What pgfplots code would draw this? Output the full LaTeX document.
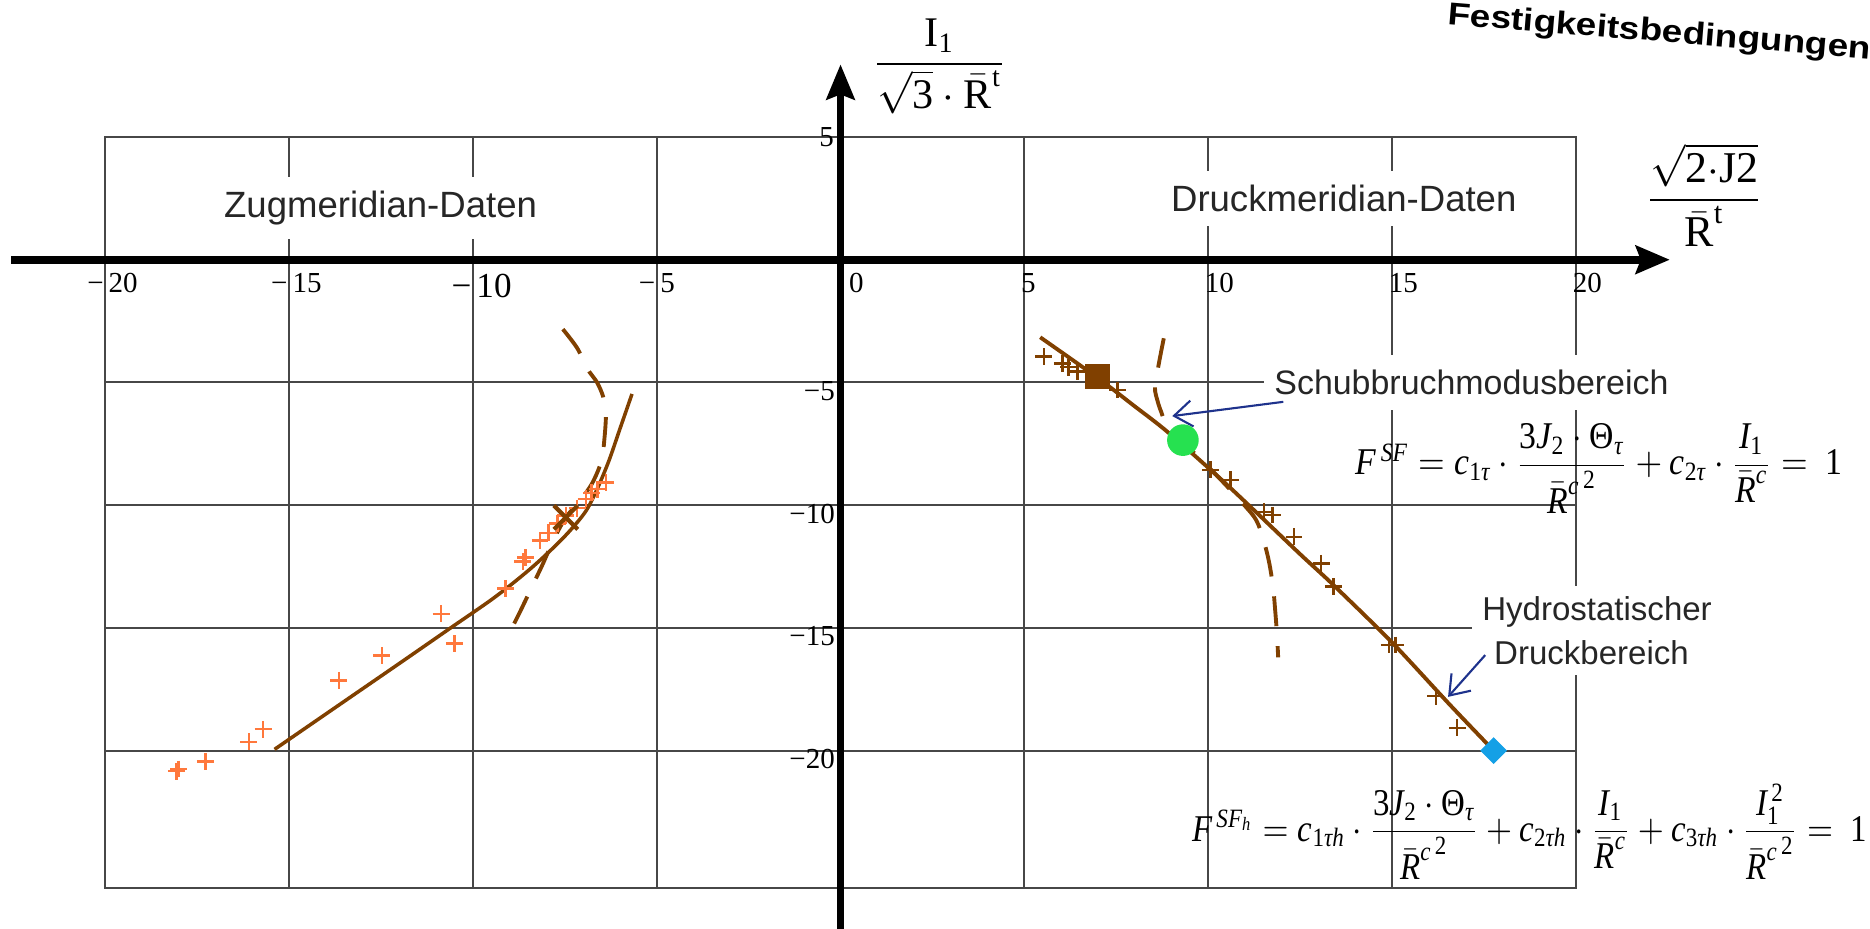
\documentclass[border=0pt]{standalone}
\usepackage{fontspec}
\usepackage{amsmath}
\setmainfont{Liberation Serif}
\setsansfont{Liberation Sans}
\usepackage{pgfplots}
\pgfplotsset{compat=1.18}
\usetikzlibrary{arrows.meta}

\definecolor{brownc}{RGB}{128,64,0}
\definecolor{orangec}{RGB}{255,120,60}
\definecolor{navyc}{RGB}{30,50,140}
\definecolor{greenc}{RGB}{38,225,80}
\definecolor{bluec}{RGB}{20,160,230}

\newcommand{\ti}[1]{\textit{#1}}
\newcommand{\tl}{\fontsize{8.25}{10}\selectfont}
% R-bar with the exponent c^2, set as in the source formulas
\newcommand{\Rcsq}{\bar{\ti{R}}^{\ti{c}\,\raisebox{0.35ex}{\fontsize{7.5}{8}\selectfont 2}}}

% tension meridian: fitted curve
\pgfplotstableread{
x y
-15.39 -19.95
-13.50 -18.00
-11.90 -16.35
-10.60 -15.00
-9.40 -13.75
-8.40 -12.55
-7.55 -11.35
-6.95 -10.30
-6.62 -9.35
-6.30 -8.20
-6.00 -6.90
-5.67 -5.47
}\zugfit
% tension meridian: shear fracture branch
\pgfplotstableread{
x y
-7.55 -2.83
-7.16 -3.60
-6.89 -4.43
-6.62 -5.00
-6.45 -5.60
-6.38 -6.30
-6.42 -7.30
-6.50 -8.20
-6.75 -9.10
-7.10 -9.85
-7.47 -10.50
-7.80 -11.40
-8.09 -12.38
-8.35 -13.20
-8.70 -14.30
-9.00 -15.20
}\zugshear
% tension meridian: test data
\pgfplotstableread{
x y
-18.06 -20.84
-18.00 -20.75
-17.27 -20.45
-16.09 -19.64
-15.70 -19.13
-13.64 -17.14
-12.47 -16.13
-10.86 -14.43
-10.50 -15.64
-9.11 -13.39
-8.64 -12.30
-8.56 -12.14
-8.17 -11.44
-7.94 -11.13
-7.70 -10.75
-7.47 -10.43
-7.16 -10.12
-6.92 -9.74
-6.77 -9.50
-6.61 -9.35
-6.38 -9.08
}\zugdata
% compression meridian: fitted curve
\pgfplotstableread{
x y
5.43 -3.16
6.98 -4.80
7.98 -5.95
8.88 -7.00
10.24 -8.80
11.24 -10.20
12.50 -12.00
13.40 -13.25
15.00 -15.60
16.58 -18.15
17.76 -20.00
}\druckfit
% compression meridian: shear fracture branch
\pgfplotstableread{
x y
8.79 -3.20
8.66 -4.20
8.55 -5.20
8.62 -5.75
8.72 -6.20
8.93 -6.94
9.60 -7.85
10.30 -8.90
10.95 -9.95
11.30 -10.60
11.50 -11.40
11.65 -12.30
11.76 -13.30
11.82 -14.30
11.87 -15.30
11.90 -16.20
}\druckshear
% compression meridian: test data
\pgfplotstableread{
x y
5.53 -3.95
6.03 -4.22
6.20 -4.38
6.44 -4.56
7.53 -5.31
10.06 -8.56
10.60 -8.97
11.52 -10.27
11.74 -10.40
12.33 -11.29
13.07 -12.37
13.40 -13.32
14.92 -15.70
15.09 -15.70
16.19 -17.78
16.77 -19.07
}\druckdata

\begin{document}
\begin{tikzpicture}
\begin{axis}[
  scale only axis, width=147.1mm, height=75.1mm,
  xmin=-20, xmax=20, ymin=-25.6, ymax=5,
  xtick={-20,-15,...,20}, ytick={-20,-15,...,5},
  xticklabels={}, yticklabels={},
  major tick length=0pt,
  grid=major,
  grid style={line width=0.6pt, draw=black!72},
  axis line style={line width=0.6pt, draw=black!72},
  clip=false,
]
% text boxes that interrupt the grid
\node[anchor=base west, fill=white, inner xsep=1mm, inner ysep=1.4mm, xshift=-1mm,
  font=\sffamily\fontsize{10.4}{12}\selectfont, text=black!85] at (axis cs:-16.78,1.74) {Zugmeridian-Daten};
\node[anchor=base west, fill=white, inner xsep=1mm, inner ysep=1.4mm, xshift=-1mm,
  font=\sffamily\fontsize{10.4}{12}\selectfont, text=black!85] at (axis cs:8.97,1.96) {Druckmeridian-Daten};
\node[anchor=base west, fill=white, inner xsep=1mm, inner ysep=1.5mm, xshift=-1mm,
  font=\sffamily\fontsize{9.65}{12}\selectfont, text=black!85] at (axis cs:11.78,-5.51) {Schubbruchmodusbereich};
\node[anchor=base, fill=white, inner xsep=1mm, inner ysep=1mm,
  font=\sffamily\fontsize{9.4}{12}\selectfont, text=black!85] at (axis cs:20.57,-14.68) {Hydrostatischer};
\node[anchor=base, fill=white, inner xsep=1mm, inner ysep=1mm,
  font=\sffamily\fontsize{9.4}{12}\selectfont, text=black!85] at (axis cs:20.42,-16.48) {Druckbereich};

% tension meridian
\addplot[brownc, line width=1pt, smooth] table {\zugfit};
\addplot[brownc, line width=1.1pt, smooth, dash pattern=on 8.5pt off 5.7pt] table {\zugshear};
\addplot[only marks, mark=+, mark size=2.4pt, orangec, mark options={line width=0.7pt}] table {\zugdata};
\addplot[only marks, mark=x, mark size=4.8pt, brownc, mark options={line width=1.2pt}] coordinates {(-7.47,-10.5)};

% compression meridian
\addplot[brownc, line width=1.1pt, smooth] table {\druckfit};
\addplot[brownc, line width=1.1pt, smooth, dash pattern=on 8.5pt off 5.7pt] table {\druckshear};
\addplot[only marks, mark=+, mark size=2.4pt, brownc, mark options={line width=0.7pt}] table {\druckdata};
\addplot[only marks, mark=square*, mark size=3.4pt, brownc] coordinates {(6.98,-4.76)};
\addplot[only marks, mark=*, mark size=4.3pt, greenc] coordinates {(9.31,-7.35)};
\addplot[only marks, mark=square*, mark size=2.5pt, bluec, mark options={rotate=45}] coordinates {(17.76,-20)};

% coordinate axes
\draw[line width=2.2pt, -{Stealth[length=3.4mm, width=2.8mm, inset=0.5mm]}] (axis cs:-22.55,0) -- (axis cs:22.55,0);
\draw[line width=2.1pt, -{Stealth[length=3.5mm, width=2.8mm, inset=0.5mm]}] (axis cs:0,-27.3) -- (axis cs:0,7.96);

% tick labels
\node[anchor=north west, inner sep=0, font=\tl, xshift=0.3mm] at (axis cs:-20,-0.54) {\llap{−\hspace{0.5mm}}20};
\node[anchor=north west, inner sep=0, font=\tl, xshift=0.3mm] at (axis cs:-15,-0.54) {\llap{−\hspace{0.5mm}}15};
\node[anchor=north west, inner sep=0, font=\fontsize{10}{12}\selectfont, xshift=0.3mm] at (axis cs:-10,-0.54) {\llap{−\hspace{0.5mm}}10};
\node[anchor=north west, inner sep=0, font=\tl, xshift=0.3mm] at (axis cs:-5,-0.54) {\llap{−\hspace{0.5mm}}5};
\node[anchor=north west, inner sep=0, font=\tl, xshift=0.8mm] at (axis cs:0,-0.54) {0};
\node[anchor=north west, inner sep=0, font=\tl, xshift=-0.4mm] at (axis cs:5,-0.54) {5};
\node[anchor=north west, inner sep=0, font=\tl, xshift=-0.4mm] at (axis cs:10,-0.54) {10};
\node[anchor=north west, inner sep=0, font=\tl, xshift=-0.4mm] at (axis cs:15,-0.54) {15};
\node[anchor=north west, inner sep=0, font=\tl, xshift=-0.4mm] at (axis cs:20,-0.54) {20};
\node[anchor=east, inner sep=0, font=\tl, xshift=-0.6mm] at (axis cs:0,5) {5};
\node[anchor=north east, inner sep=0, font=\tl, xshift=-0.5mm, yshift=0.2mm] at (axis cs:0,-5) {−5};
\node[anchor=north east, inner sep=0, font=\tl, xshift=-0.5mm, yshift=0.2mm] at (axis cs:0,-10) {−10};
\node[anchor=north east, inner sep=0, font=\tl, xshift=-0.5mm, yshift=0.2mm] at (axis cs:0,-15) {−15};
\node[anchor=north east, inner sep=0, font=\tl, xshift=-0.5mm, yshift=0.2mm] at (axis cs:0,-20) {−20};

% axis titles
\node[inner sep=0, font=\fontsize{12}{14}\selectfont] at (axis cs:2.69,7.89)
  {$\dfrac{\text{I}_{\text{1}}}{\sqrt{\text{3}}\cdot\bar{\text{R}}^{\text{t}}}$};
\node[inner sep=0, font=\fontsize{12.5}{14}\selectfont] at (axis cs:23.49,2.64)
  {$\dfrac{\sqrt{\text{2}{\cdot}\text{J2}}}{\bar{\text{R}}^{\text{t}}}$};

% failure criteria
\node[anchor=base west, inner sep=0, font=\fontsize{10.75}{13}\selectfont] at (axis cs:13.99,-8.77)
  {\resizebox{48.7mm}{\height}{$\ti{F}^{\,\ti{SF}} = \ti{c}_{\text{1}\ti{τ}}\cdot\dfrac{\text{3}\ti{J}_{\text{2}}\cdot\text{Θ}_{\ti{τ}}}{\Rcsq} + \ti{c}_{\text{2}\ti{τ}}\cdot\dfrac{\ti{I}_{\text{1}}}{\bar{\ti{R}}^{\ti{c}}} = \ \text{1}$}};
\node[anchor=base west, inner sep=0, font=\fontsize{10.75}{13}\selectfont] at (axis cs:9.54,-23.69)
  {\resizebox{67.5mm}{\height}{$\ti{F}^{\,\ti{SF}_{\ti{h}}} = \ti{c}_{\text{1}\ti{τh}}\cdot\dfrac{\text{3}\ti{J}_{\text{2}}\cdot\text{Θ}_{\ti{τ}}}{\Rcsq} + \ti{c}_{\text{2}\ti{τh}}\cdot\dfrac{\ti{I}_{\text{1}}}{\bar{\ti{R}}^{\ti{c}}} + \ti{c}_{\text{3}\ti{τh}}\cdot\dfrac{\ti{I}_{\text{1}}^{\,\text{2}}}{\Rcsq} = \ \text{1}$}};

% pointers to the marked regions
\draw[navyc, line width=0.6pt, -{Straight Barb[length=1.8mm, width=2.6mm]}] (axis cs:12.04,-5.79) -- (axis cs:9.02,-6.37);
\draw[navyc, line width=0.6pt, -{Straight Barb[length=1.8mm, width=2.6mm]}] (axis cs:17.53,-16.11) -- (axis cs:16.52,-17.81);

\node[anchor=base west, inner sep=0, rotate=-4.7, font=\sffamily\bfseries\fontsize{9}{10}\selectfont] at (axis cs:16.48,9.60)
  {\resizebox{42.4mm}{\height}{Festigkeitsbedingungen}};

\coordinate (bbSW) at (axis cs:-22.855,-27.23);
\coordinate (bbNE) at (axis cs:27.993,10.583);
\end{axis}
\pgfresetboundingbox
\path[use as bounding box] (bbSW) rectangle (bbNE);
\end{tikzpicture}
\end{document}
